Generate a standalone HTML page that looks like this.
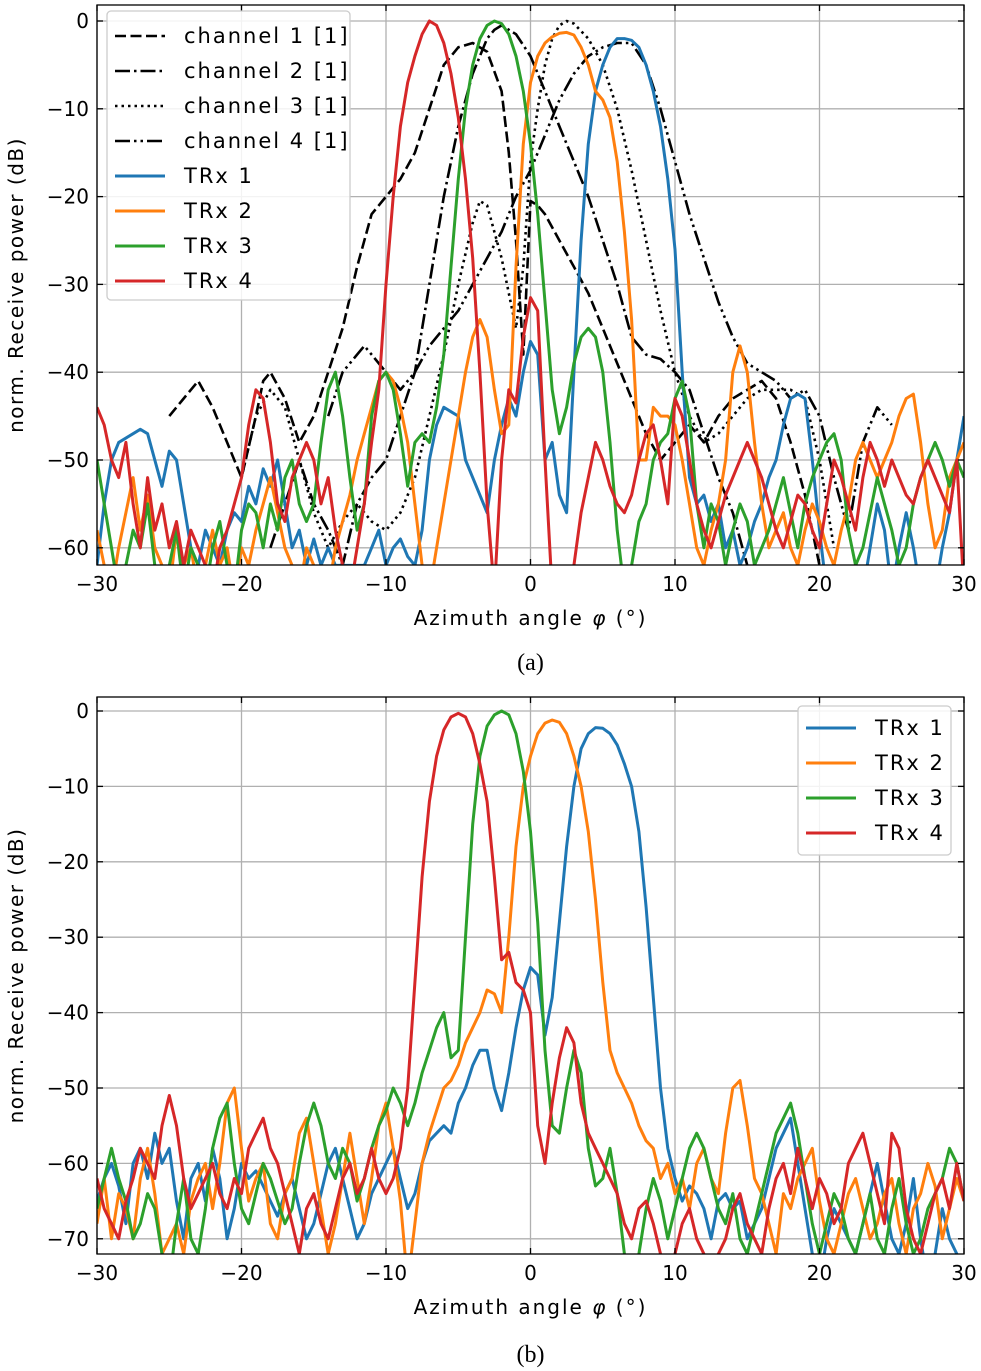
<!DOCTYPE html>
<html><head><meta charset="utf-8">
<style>
html,body{margin:0;padding:0;background:#fff;}
svg{display:block;font-family:"DejaVu Sans","Liberation Sans",sans-serif;}
</style></head>
<body>
<svg id="fig" width="981" height="1371" viewBox="0 0 981 1371" xmlns="http://www.w3.org/2000/svg"></svg>
<script>
// ---------- data ----------
const angleStart = -30, angleStep = 0.5;
const topTRx1 = [-62,-55,-50,-48,-47.5,-47,-46.5,-47,-50,-53, -49,-50,-55,-60,-62,-58,-60,-62,-58,-56, -57,-53,-55,-51,-53,-50,-55,-60,-58,-62, -59,-62,-60,-62,-62,-62,-62,-62,-60,-58, -62,-60,-59,-61,-62,-58,-50,-46,-44,-44.5, -45,-50,-52,-54,-56,-50,-46,-43,-45,-40, -36.5,-38,-50,-48,-54,-56,-40,-25,-14,-8, -5,-3,-2,-2,-2.2,-3,-5,-8,-12,-18, -26,-40,-52,-55,-54,-57,-55,-60,-58,-62, -60,-57,-55,-52,-50,-46,-43,-42.5,-43,-50, -58,-65,-65,-65,-65,-65,-65,-60,-55,-58, -65,-60,-56,-60,-65,-65,-65,-60,-56,-50, -45];
const topTRx2 = [-58,-62,-65,-60,-56,-52,-58,-54,-60,-62, -65,-58,-62,-60,-65,-62,-58,-62,-60,-65, -60,-62,-58,-55,-52,-56,-60,-62,-65,-60, -62,-65,-65,-60,-57,-54,-50,-47,-44,-41, -40,-41,-44,-48,-55,-62,-65,-60,-55,-50, -45,-40,-36,-34,-36,-42,-47,-46,-28,-14, -7,-4,-2.5,-1.8,-1.4,-1.3,-1.6,-3,-5,-8, -9,-11,-16,-24,-34,-50,-50,-44,-45,-45, -46,-50,-55,-60,-62,-58,-55,-50,-40,-37, -40,-48,-55,-60,-58,-56,-60,-62,-58,-55, -57,-60,-62,-58,-55,-50,-48,-50,-52,-50, -48,-45,-43,-42.5,-48,-55,-60,-58,-52,-50, -48];
const topTRx3 = [-50,-55,-60,-65,-62,-58,-60,-55,-62,-65, -62,-58,-65,-60,-62,-65,-60,-57,-62,-65, -58,-55,-56,-60,-55,-58,-52,-50,-55,-57, -55,-48,-42,-40,-45,-52,-58,-55,-45,-41, -40,-42,-47,-53,-48,-47,-48,-44,-38,-28, -18,-10,-5,-2,-0.5,0,-0.3,-1.5,-4,-8, -14,-22,-32,-42,-47,-44,-39,-36,-35,-36, -40,-48,-58,-65,-62,-57,-55,-50,-48,-47, -43,-41,-45,-55,-60,-55,-57,-62,-58,-55, -57,-62,-60,-58,-55,-52,-56,-60,-55,-52, -50,-48,-47,-50,-58,-62,-60,-56,-52,-55, -58,-62,-60,-55,-52,-50,-48,-50,-53,-50, -52];
const topTRx4 = [-44,-46,-50,-52,-48,-55,-60,-52,-58,-55, -60,-57,-62,-58,-60,-62,-65,-60,-58,-55, -52,-46,-42,-43,-48,-55,-57,-52,-50,-48, -50,-55,-52,-58,-62,-65,-60,-55,-48,-42, -30,-20,-12,-7,-4,-1.5,0,-0.5,-2.5,-6, -11,-18,-27,-40,-55,-65,-50,-42,-43.5,-36, -31.5,-33,-50,-65,-65,-65,-62,-56,-52,-48, -50,-53,-55,-56,-54,-50,-47,-46,-50,-55, -43,-45,-50,-55,-58,-60,-57,-54,-52,-50, -48,-50,-52,-55,-58,-60,-57,-54,-55,-58, -60,-55,-50,-52,-55,-58,-52,-48,-50,-53, -50,-52,-54,-55,-52,-50,-52,-54,-56,-50, -65];
const ch1X = [-25,-24,-23.5,-23,-22,-21,-20,-19,-18.5,-18,-17,-16,-15,-14,-13,-12,-11,-10,-9,-8,-7,-6,-5,-4,-3,-2,-1.5,-1,-0.5,0,0.5,1,2,3,4,5,6,7,8,9,10,11,12,13,14,15,16,17,18,19,20];
const ch1Y = [-45,-43,-42,-41,-44,-48,-52,-45,-41,-40,-43,-48,-45,-40,-35,-28,-22,-20,-18,-15,-10,-5,-3,-2.5,-3.5,-8,-15,-25,-38,-20.5,-21,-22,-25,-28,-31,-35,-39,-43,-47,-50,-48,-46,-48,-45,-43,-42,-41,-43,-48,-54,-62];
const ch2X = [-18,-17,-16,-15,-14,-13,-12,-11,-10,-9,-8,-7,-6,-5,-4,-3,-2.5,-2,-1,0,1,2,3,4,5,6,7,8,9,10,11,12,13,14,15];
const ch2Y = [-60,-55,-50,-55,-58,-62,-55,-52,-50,-45,-40,-30,-20,-12,-6,-2,-1,-0.5,-1.5,-4,-8,-12,-16,-20,-25,-30,-36,-38,-38.5,-40,-42,-47,-52,-56,-62];
const ch3X = [-20,-19,-18,-17,-16,-15,-14,-13,-12,-11,-10,-9,-8,-7,-6,-5,-4,-3.5,-3,-2,-1,-0.5,0,0.5,1,1.5,2,2.5,3,4,5,6,7,8,9,10,11,12,13,14,15,16,17,18,19,20,21];
const ch3Y = [-52,-45,-42,-44,-50,-56,-60,-57,-55,-57,-58,-56,-52,-45,-38,-30,-23,-20.5,-21,-27,-35,-28,-16,-10,-5,-2,-0.5,0,-0.3,-2,-5,-10,-17,-25,-33,-40,-45,-48,-47,-45,-43,-42,-42,-42,-43,-50,-60];
const ch4X = [-14,-13,-12,-11.5,-11,-10,-9,-8,-7,-6,-5,-4,-3,-2,-1,0,1,2,3,4,5,6,7,8,9,10,11,12,13,14,15,16,17,18,19,20,21,22,23,24,25];
const ch4Y = [-45,-40,-38,-37,-38,-40,-42,-40,-37,-35,-33,-30,-27,-24,-20,-17,-13,-9,-6,-4,-3,-2.5,-2.5,-5,-10,-16,-22,-27,-32,-36,-39,-40,-41,-43,-42,-45,-52,-58,-48,-44,-46];
const botTRx1 = [-65,-62,-60,-63,-68,-60,-58,-62,-56,-60, -58,-65,-70,-62,-60,-65,-58,-62,-70,-66, -60,-62,-61,-63,-65,-67,-64,-62,-66,-70, -68,-64,-60,-58,-62,-66,-70,-68,-64,-62, -60,-58,-62,-66,-64,-60,-57,-56,-55,-56, -52,-50,-47,-45,-45,-50,-53,-48,-42,-37, -34,-35,-43,-38,-28,-18,-10,-5,-3,-2.2, -2.3,-3,-4.5,-7,-10,-16,-26,-38,-50,-58, -62,-65,-63,-64,-66,-70,-65,-64,-66,-65, -70,-68,-66,-62,-58,-56,-54,-60,-66,-72, -76,-70,-66,-68,-70,-72,-68,-64,-60,-65, -70,-72,-68,-62,-70,-76,-72,-66,-70,-72, -76];
const botTRx2 = [-68,-62,-70,-64,-66,-70,-62,-58,-64,-72, -70,-68,-72,-65,-62,-60,-66,-60,-52,-50, -58,-65,-62,-60,-68,-70,-64,-62,-56,-54, -60,-66,-72,-68,-62,-56,-62,-68,-62,-55, -52,-58,-65,-76,-68,-60,-56,-53,-50,-49, -47,-44,-42,-40,-37,-37.5,-40,-30,-18,-10, -6,-3,-1.6,-1.2,-1.5,-3,-6,-10,-16,-25, -36,-45,-48,-50,-52,-55,-57,-58,-62,-60, -64,-62,-66,-60,-58,-62,-64,-56,-50,-49, -55,-62,-64,-68,-72,-64,-66,-62,-60,-58, -65,-70,-72,-68,-64,-62,-66,-70,-68,-64, -62,-68,-72,-66,-64,-60,-63,-70,-66,-62, -65];
const botTRx3 = [-66,-62,-58,-62,-65,-70,-68,-64,-66,-72, -76,-68,-62,-70,-72,-66,-58,-54,-52,-60, -66,-68,-64,-60,-62,-65,-68,-66,-60,-55, -52,-55,-60,-62,-58,-60,-65,-62,-58,-55, -53,-50,-52,-55,-52,-48,-45,-42,-40,-46, -45,-30,-15,-6,-2,-0.5,0,-0.5,-3,-8, -16,-28,-45,-55,-56,-50,-45,-48,-58,-63, -62,-58,-64,-72,-76,-72,-66,-62,-65,-70, -66,-62,-58,-56,-58,-62,-66,-68,-64,-70, -72,-68,-64,-60,-56,-54,-52,-56,-62,-68, -72,-68,-64,-66,-70,-72,-68,-64,-70,-72, -66,-62,-68,-72,-70,-66,-64,-62,-58,-60, -65];
const botTRx4 = [-62,-66,-68,-70,-65,-62,-58,-60,-62,-55, -51,-55,-62,-66,-64,-62,-60,-64,-66,-62, -64,-58,-56,-54,-58,-60,-64,-68,-72,-66, -64,-68,-70,-66,-62,-60,-64,-62,-58,-62, -64,-62,-58,-50,-36,-22,-12,-6,-2.5,-0.8, -0.3,-0.8,-3,-7,-12,-22,-33,-32,-36,-37, -40,-55,-60,-52,-46,-42,-44,-52,-56,-58, -60,-62,-64,-68,-70,-66,-65,-68,-72,-76, -72,-68,-66,-70,-72,-76,-72,-70,-66,-64, -68,-70,-72,-66,-62,-60,-64,-58,-62,-66, -62,-64,-68,-66,-60,-58,-56,-60,-64,-68, -56,-58,-66,-70,-72,-68,-64,-62,-66,-60, -65];
const xTicks = [-30,-20,-10,0,10,20,30];
const xTickLabels = ["\u221230","\u221220","\u221210","0","10","20","30"];
const yTicksTop = [0,-10,-20,-30,-40,-50,-60];
const yTicksBot = [0,-10,-20,-30,-40,-50,-60,-70];

// ---------- drawing ----------
const NS = "http://www.w3.org/2000/svg";
const svg = document.getElementById('fig');
function mk(tag, attrs, parent){ const e=document.createElementNS(NS,tag); for(const k in attrs) e.setAttribute(k,attrs[k]); (parent||svg).appendChild(e); return e; }
const colors = {b:"#1f77b4",o:"#ff7f0e",g:"#2ca02c",r:"#d62728"};

function makeAxes(cfg){
  const g = mk('g',{});
  
  
  const sx = v => cfg.x0 + (v - (-30)) * (cfg.x1 - cfg.x0) / 60;
  const sy = v => cfg.yZero + (-v) * cfg.yPer10 / 10;
  const L=cfg.x0, R=cfg.x1, T=cfg.top, B=cfg.bottom;
  const clipId = cfg.name + '-clip';
  const defs = mk('defs',{},g);
  const cp = mk('clipPath',{id:clipId},defs);
  mk('rect',{x:L,y:T,width:R-L,height:B-T},cp);
  xTicks.forEach(t=>{ const l=mk('line',{x1:sx(t),x2:sx(t),y1:T,y2:B,stroke:"#b0b0b0","stroke-width":1.3},g);
      });
  cfg.yTicks.forEach(t=>{ const l=mk('line',{x1:L,x2:R,y1:sy(t),y2:sy(t),stroke:"#b0b0b0","stroke-width":1.3},g);
      });
  const sg = mk('g',{'clip-path':`url(#${clipId})`},g);
  cfg.series.forEach(s=>{
    const xs = s.x || s.y.map((_,i)=>angleStart + i*angleStep);
    const d = s.y.map((v,i)=>(i?'L':'M')+sx(xs[i]).toFixed(1)+','+sy(v).toFixed(1)).join('');
    const p = mk('path',{d, fill:'none', stroke:s.color, 'stroke-width':s.w||3, 'stroke-linejoin':'round'},sg);
    if(s.dash) p.setAttribute('stroke-dasharray', s.dash);
    
    
  });
  const fr = mk('rect',{x:L,y:T,width:R-L,height:B-T,fill:'none',stroke:'#000','stroke-width':1.3},g);
   
  xTicks.forEach((t,i)=>{
    mk('line',{x1:sx(t),x2:sx(t),y1:B,y2:B-6,stroke:'#000','stroke-width':1.3},g);
    mk('line',{x1:sx(t),x2:sx(t),y1:T,y2:T+6,stroke:'#000','stroke-width':1.3},g);
    const tx = mk('text',{x:sx(t),y:B+26,'font-size':20,'text-anchor':'middle',fill:'#000'},g);
    tx.textContent = xTickLabels[i];
     
  });
  cfg.yTicks.forEach(t=>{
    mk('line',{x1:L,x2:L+6,y1:sy(t),y2:sy(t),stroke:'#000','stroke-width':1.3},g);
    mk('line',{x1:R,x2:R-6,y1:sy(t),y2:sy(t),stroke:'#000','stroke-width':1.3},g);
    const tx = mk('text',{x:L-8,y:sy(t)+7,'font-size':20,'text-anchor':'end',fill:'#000'},g);
    tx.textContent = t<0 ? '\u2212'+(-t) : String(t);
     
  });
  const xt = mk('text',{x:(L+R)/2,y:B+60,'font-size':20,'letter-spacing':'2px','text-anchor':'middle',fill:'#000'},g);
  xt.innerHTML = 'Azimuth angle <tspan font-style="italic">\u03c6</tspan> (\u00b0)';
   
  const yt = mk('text',{x:0,y:0,'font-size':20,'letter-spacing':'1.5px','text-anchor':'middle',fill:'#000',transform:`translate(23,${(T+B)/2}) rotate(-90)`},g);
  yt.textContent = 'norm. Receive power (dB)';
   
  const cap = mk('text',{x:(L+R)/2,y:cfg.capY,'font-size':24,'text-anchor':'middle',fill:'#000','font-family':'"Liberation Serif",serif'},g);
  cap.textContent = cfg.caption;
   
  const lg = mk('g',{},g);
   
  const lb = cfg.legend;
  mk('rect',{x:lb.x,y:lb.y,width:lb.w,height:lb.h,rx:4,fill:'#fff','fill-opacity':0.85,stroke:'#ccc','stroke-width':1.3},lg);
  lb.items.forEach((it,i)=>{
    const yy = lb.firstY + i*lb.dy;
    const e = mk('g',{},lg);
     
    const ln = mk('line',{x1:lb.x+8,x2:lb.x+58,y1:yy,y2:yy,stroke:it.color,'stroke-width':it.w||3},e);
    if(it.dash) ln.setAttribute('stroke-dasharray',it.dash);
    const tt = mk('text',{x:lb.x+77,y:yy+7,'font-size':21,'letter-spacing':'2px',fill:'#000'},e);
    tt.textContent = it.label;
  });
}

const D1="11,4.5", D2="15,4,2.5,4", D3="2.5,4", D4="15,4,2.5,4,2.5,4";
const topSeries = [
  {name:'channel-1-line',x:ch1X,y:ch1Y,color:'#000',dash:D1,w:2.6},
  {name:'channel-2-line',x:ch2X,y:ch2Y,color:'#000',dash:D2,w:2.6},
  {name:'channel-3-line',x:ch3X,y:ch3Y,color:'#000',dash:D3,w:2.6},
  {name:'channel-4-line',x:ch4X,y:ch4Y,color:'#000',dash:D4,w:2.6},
  {name:'trx-1-line',y:topTRx1,color:colors.b},
  {name:'trx-2-line',y:topTRx2,color:colors.o},
  {name:'trx-3-line',y:topTRx3,color:colors.g},
  {name:'trx-4-line',y:topTRx4,color:colors.r},
];
makeAxes({name:'plot-a',x0:97,x1:964,top:5,bottom:565,yZero:21,yPer10:87.8,yTicks:yTicksTop,capY:670,caption:'(a)',
  series:topSeries,
  legend:{x:107,y:11,w:243,h:289,firstY:36,dy:35,items:[
    {label:'channel 1 [1]',color:'#000',dash:D1,w:2.6},
    {label:'channel 2 [1]',color:'#000',dash:D2,w:2.6},
    {label:'channel 3 [1]',color:'#000',dash:D3,w:2.6},
    {label:'channel 4 [1]',color:'#000',dash:D4,w:2.6},
    {label:'TRx 1',color:colors.b},{label:'TRx 2',color:colors.o},
    {label:'TRx 3',color:colors.g},{label:'TRx 4',color:colors.r}]}
});
makeAxes({name:'plot-b',x0:97,x1:964,top:697,bottom:1254,yZero:711,yPer10:75.4,yTicks:yTicksBot,capY:1362,caption:'(b)',
  series:[
    {name:'trx-1-line',y:botTRx1,color:colors.b},
    {name:'trx-2-line',y:botTRx2,color:colors.o},
    {name:'trx-3-line',y:botTRx3,color:colors.g},
    {name:'trx-4-line',y:botTRx4,color:colors.r}],
  legend:{x:798,y:706,w:153,h:149,firstY:728,dy:35,items:[
    {label:'TRx 1',color:colors.b},{label:'TRx 2',color:colors.o},
    {label:'TRx 3',color:colors.g},{label:'TRx 4',color:colors.r}]}
});
</script>
</body></html>
